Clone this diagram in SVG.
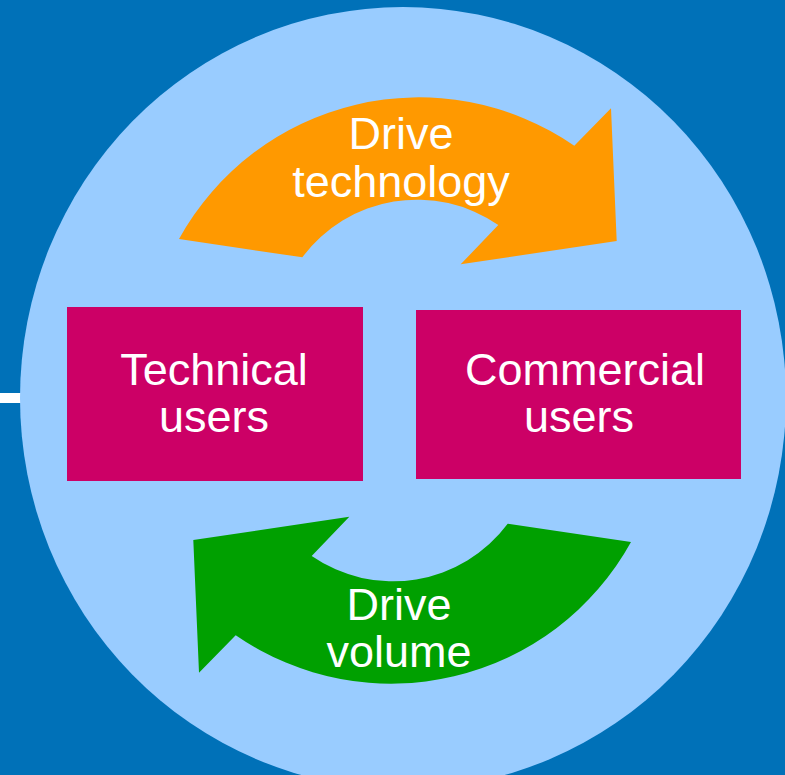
<svg xmlns="http://www.w3.org/2000/svg" width="785" height="775" viewBox="0 0 785 775">
  <defs>
    <style>
      .lbl { font-family: "Liberation Sans", Arial, sans-serif; font-size: 45px; fill: #FFFFFF; text-anchor: middle; }
      .box { fill: #CC0066; }
    </style>
    <path id="cyc" d="M 179,239 A 274 274 0 0 1 574.3,145.7 L 611,108.3 L 616.7,241 L 460.7,264.3 L 498.3,225 A 143 143 0 0 0 302.3,257.3 Z"/>
  </defs>
  <rect x="0" y="0" width="785" height="775" fill="#0071B8"/>
  <rect x="0" y="393" width="24" height="10" fill="#FFFFFF"/>
  <ellipse cx="403" cy="398" rx="383" ry="391" fill="#99CCFF"/>

  <g id="connectors">
    <g id="drive-technology">
      <use href="#cyc" fill="#FF9900"/>
      <text class="lbl" x="401" y="149">Drive</text>
      <text class="lbl" x="401" y="197">technology</text>
    </g>
    <g id="drive-volume">
      <use href="#cyc" fill="#00A000" transform="rotate(180 405 390.5)"/>
      <text class="lbl" x="399" y="620">Drive</text>
      <text class="lbl" x="399" y="667">volume</text>
    </g>
  </g>

  <g id="technical-users">
    <rect class="box" x="67" y="307" width="296" height="174"/>
    <text class="lbl" x="214" y="385">Technical</text>
    <text class="lbl" x="214" y="432">users</text>
  </g>
  <g id="commercial-users">
    <rect class="box" x="416" y="310" width="325" height="169"/>
    <text class="lbl" x="585" y="385">Commercial</text>
    <text class="lbl" x="579" y="432">users</text>
  </g>
</svg>
